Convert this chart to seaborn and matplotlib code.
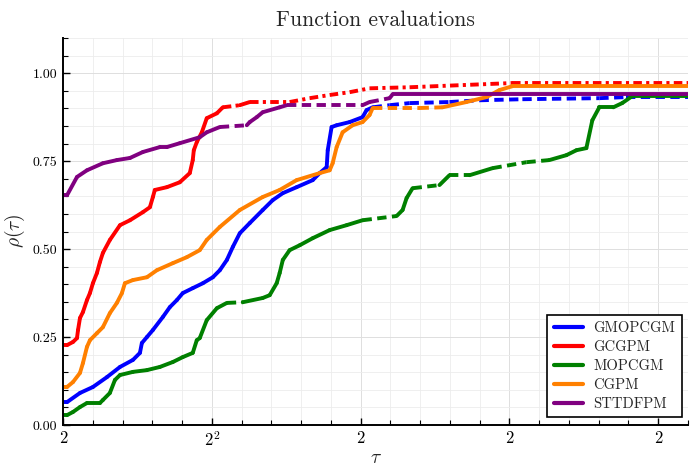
import matplotlib.pyplot as plt
import numpy as np
import pandas as pd
import seaborn as sns
from matplotlib.lines import Line2D

# performance profile, x is log2(tau)
methods = ["GMOPCGM", "GCGPM", "MOPCGM", "CGPM", "STTDFPM"]
colors = ["#0000ff", "#ff0000", "#008000", "#ff8000", "#800080"]

gmopcgm_t = [1.0, 1.027, 1.114, 1.201, 1.295, 1.383, 1.47, 1.517, 1.53, 1.564, 1.604, 1.671,
             1.718, 1.765, 1.805, 1.872, 1.94, 2.007, 2.054, 2.101, 2.141, 2.188, 2.255, 2.342,
             2.409, 2.477, 2.57, 2.678, 2.725, 2.772, 2.779, 2.805, 2.839, 2.926, 3.013, 3.04,
             3.081, 3.195, 3.329, 3.597, 3.799, 4.087, 4.604, 4.785, 5.2]
gmopcgm_rho = [0.065, 0.065, 0.091, 0.108, 0.136, 0.165, 0.185, 0.205, 0.233, 0.25, 0.27, 0.307,
               0.335, 0.355, 0.375, 0.389, 0.403, 0.42, 0.44, 0.469, 0.506, 0.545, 0.574, 0.611,
               0.639, 0.659, 0.676, 0.696, 0.716, 0.733, 0.781, 0.847, 0.852, 0.861, 0.875, 0.895,
               0.903, 0.909, 0.915, 0.918, 0.923, 0.926, 0.929, 0.932, 0.932]

gcgpm_t = [1.0, 1.027, 1.067, 1.094, 1.101, 1.114, 1.134, 1.161, 1.181, 1.201, 1.228, 1.248,
           1.268, 1.315, 1.383, 1.45, 1.537, 1.584, 1.604, 1.617, 1.698, 1.785, 1.852, 1.872,
           1.879, 1.899, 1.933, 1.966, 2.034, 2.074, 2.188, 2.255, 2.523, 2.658, 2.792, 2.926,
           3.06, 3.329, 4.02, 5.2]
gcgpm_rho = [0.227, 0.227, 0.236, 0.247, 0.27, 0.304, 0.321, 0.355, 0.375, 0.403, 0.432, 0.463,
             0.489, 0.526, 0.568, 0.582, 0.605, 0.619, 0.648, 0.668, 0.676, 0.69, 0.716, 0.753,
             0.781, 0.804, 0.832, 0.872, 0.886, 0.903, 0.909, 0.918, 0.918, 0.929, 0.938, 0.946,
             0.957, 0.96, 0.972, 0.972]

mopcgm_t = [1.0, 1.027, 1.067, 1.114, 1.161, 1.248, 1.268, 1.315, 1.349, 1.383, 1.47, 1.564,
            1.651, 1.738, 1.805, 1.872, 1.899, 1.919, 1.966, 2.034, 2.101, 2.208, 2.342, 2.389,
            2.436, 2.456, 2.477, 2.523, 2.591, 2.678, 2.792, 2.906, 3.013, 3.242, 3.282, 3.309,
            3.349, 3.53, 3.597, 3.732, 3.886, 4.114, 4.268, 4.383, 4.45, 4.517, 4.557, 4.604,
            4.698, 4.758, 4.826, 5.2]
mopcgm_rho = [0.028, 0.028, 0.037, 0.051, 0.0625, 0.0625, 0.071, 0.091, 0.128, 0.142, 0.151, 0.156,
              0.165, 0.179, 0.193, 0.205, 0.241, 0.247, 0.298, 0.332, 0.347, 0.349, 0.361, 0.369,
              0.403, 0.432, 0.469, 0.497, 0.511, 0.531, 0.554, 0.568, 0.582, 0.594, 0.611, 0.645,
              0.673, 0.682, 0.71, 0.71, 0.73, 0.747, 0.753, 0.767, 0.781, 0.787, 0.866, 0.903,
              0.903, 0.915, 0.935, 0.935]

cgpm_t = [1.0, 1.027, 1.067, 1.114, 1.134, 1.161, 1.181, 1.228, 1.268, 1.315, 1.362, 1.396,
          1.416, 1.47, 1.564, 1.631, 1.738, 1.832, 1.919, 1.966, 2.054, 2.188, 2.342, 2.456,
          2.57, 2.725, 2.792, 2.812, 2.839, 2.879, 2.946, 3.013, 3.06, 3.081, 3.396, 3.55,
          3.711, 3.846, 3.933, 4.02, 5.2]
cgpm_rho = [0.108, 0.108, 0.122, 0.148, 0.176, 0.222, 0.241, 0.261, 0.278, 0.318, 0.347, 0.375,
            0.403, 0.412, 0.42, 0.44, 0.46, 0.477, 0.497, 0.526, 0.563, 0.611, 0.648, 0.668,
            0.696, 0.716, 0.724, 0.744, 0.79, 0.832, 0.852, 0.861, 0.881, 0.901, 0.901, 0.903,
            0.918, 0.932, 0.952, 0.963, 0.963]

sttdfpm_t = [1.0, 1.027, 1.094, 1.161, 1.268, 1.362, 1.45, 1.537, 1.651, 1.698, 1.785, 1.919,
             1.966, 2.054, 2.235, 2.255, 2.302, 2.342, 2.456, 2.503, 3.013, 3.06, 3.195, 3.215, 5.2]
sttdfpm_rho = [0.653, 0.653, 0.705, 0.724, 0.744, 0.753, 0.759, 0.776, 0.79, 0.79, 0.801, 0.818,
               0.832, 0.847, 0.852, 0.861, 0.875, 0.889, 0.903, 0.909, 0.909, 0.918, 0.929, 0.94, 0.94]

series = {
    "GMOPCGM": (gmopcgm_t, gmopcgm_rho),
    "GCGPM": (gcgpm_t, gcgpm_rho),
    "MOPCGM": (mopcgm_t, mopcgm_rho),
    "CGPM": (cgpm_t, cgpm_rho),
    "STTDFPM": (sttdfpm_t, sttdfpm_rho),
}

# flat stretches show up broken in the original, the last run is solid for some
broken_style = {"GMOPCGM": "dash", "GCGPM": "dashdot", "MOPCGM": "dash", "CGPM": "dash", "STTDFPM": "dash"}
solid_tail = {"MOPCGM", "CGPM", "STTDFPM"}

rows = []
seg = 0
for name, (t, r) in series.items():
    n = len(t)
    for i in range(n - 1):
        dt = t[i + 1] - t[i]
        slope = (r[i + 1] - r[i]) / dt
        kind = "solid"
        if dt >= 0.1 and slope < 0.085:
            kind = broken_style[name]
        if i == n - 2 and name in solid_tail:
            kind = "solid"
        rows.append((name, seg, kind, t[i], r[i]))
        rows.append((name, seg, kind, t[i + 1], r[i + 1]))
        seg += 1
df = pd.DataFrame(rows, columns=["method", "seg", "kind", "t", "rho"])

sns.set_style("ticks")
plt.rcParams["font.family"] = ["cmr10", "DejaVu Serif"]
plt.rcParams["mathtext.fontset"] = "cm"
plt.rcParams["axes.formatter.use_mathtext"] = True

fig = plt.figure(figsize=(6.95, 4.68), dpi=100)
ax = fig.add_axes([63 / 695, 43 / 468, 625 / 695, 387 / 468])

sns.lineplot(data=df, x="t", y="rho", hue="method", style="kind", units="seg",
             estimator=None, sort=False, hue_order=methods, palette=colors,
             dashes={"solid": "", "dash": (2.4, 1.4), "dashdot": (2.2, 1.1, 0.8, 1.1)},
             linewidth=2.8, legend=False, ax=ax)

ax.set_xlim(1, 5.2)
ax.set_ylim(0, 1.1)
ax.set_xticks([1, 2, 3, 4, 5])
ax.set_xticklabels(["2", "$2^2$", "2", "2", "2"], fontsize=12)
ax.set_xticks(np.arange(1, 5.21, 0.2), minor=True)
ax.set_yticks([0, 0.25, 0.5, 0.75, 1.0])
ax.set_yticklabels(["0.00", "0.25", "0.50", "0.75", "1.00"], fontsize=10)
ax.set_yticks(np.arange(0, 1.101, 0.05), minor=True)
ax.tick_params(which="major", direction="in", length=5, width=1, colors="black", pad=4)
ax.tick_params(which="minor", direction="in", length=3.5, width=0.8, colors="black")
ax.grid(which="minor", color="#ececec", linewidth=0.6)
ax.grid(which="major", color="#dedede", linewidth=0.7)
ax.set_axisbelow(True)

sns.despine(ax=ax)
for side in ["left", "bottom"]:
    ax.spines[side].set_linewidth(1.4)
    ax.spines[side].set_color("black")

ax.set_title("Function evaluations", fontsize=15.5, pad=9)
ax.set_xlabel(r"$\tau$", fontsize=14, labelpad=0)
ax.set_ylabel(r"$\rho(\tau)$", fontsize=14, labelpad=4)

handles = [Line2D([0], [0], color=c, lw=3) for c in colors]
leg = ax.legend(handles, methods, loc="lower right", bbox_to_anchor=(0.99, 0.02),
                borderaxespad=0, fontsize=10.5, handlelength=2.0, labelspacing=0.35,
                handletextpad=0.7, borderpad=0.45,
                fancybox=False, framealpha=1, edgecolor="black")
leg.get_frame().set_linewidth(1.2)

fig.savefig("out.png", dpi=100)
